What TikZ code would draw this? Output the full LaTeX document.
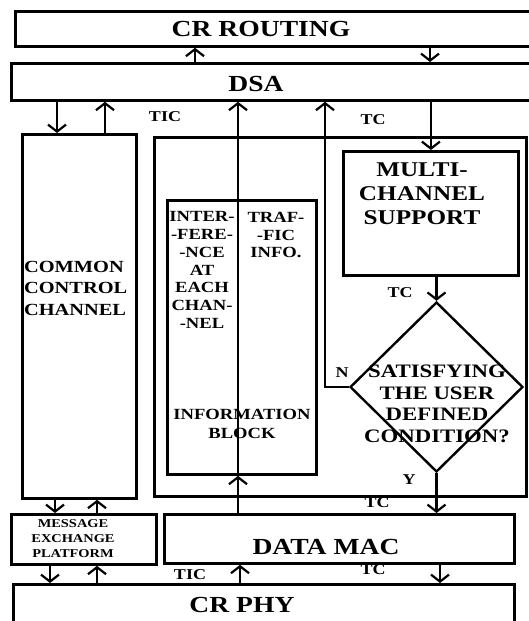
\documentclass[tikz,border=0pt]{standalone}
\usepackage{fontspec}
\setmainfont{Liberation Serif}[FakeStretch=1.2]
\usetikzlibrary{arrows.meta,
shapes.geometric,
positioning}

\begin{document}
\begin{tikzpicture} [x=1pt, y=-1pt,
        >={Straight Barb[length=7pt, width=18pt]},
        line width=2.2pt,
        layer box/.style={rectangle, draw, line width=2.8pt,
                anchor=north west, inner sep=0pt},
        big text/.style={font=\bfseries\fontsize{23}{26}\selectfont, inner sep=0pt},
        mid text/.style={font=\bfseries\fontsize{17}{21.5}\selectfont, inner sep=0pt},
        tag/.style={font=\bfseries\fontsize{15}{15}\selectfont, inner sep=0pt}]

    \useasboundingbox (0,0) rectangle (528,621);

    % boxes
    \node [layer box, minimum width = 520, minimum height = 35] (routing) at (14,10) {};
    \node [layer box, minimum width = 524, minimum height = 37] (dsa) at (10,62) {};
    \node [layer box, minimum width = 114, minimum height = 364] (ccc) at (21,133) {};
    \node [layer box, minimum width = 372, minimum height = 359] (outer) at (153,136) {};
    \node [layer box, minimum width = 149, minimum height = 274] (info) at (166,199) {};
    \node [layer box, minimum width = 175, minimum height = 124] (mcs) at (342,150) {};
    \node [
        diamond,
        draw,
        line width = 2.4pt,
        inner sep = 0pt,
        minimum width = 173,
        minimum height = 170
    ] (cond) at (436.5,387) {};
    \node [layer box, minimum width = 145, minimum height = 50] (mep) at (10,513) {};
    \node [layer box, minimum width = 350, minimum height = 49] (mac) at (163,513) {};
    \node [layer box, minimum width = 501, minimum height = 45] (phy) at (12,583) {};

    % texts
    \node [big text] (routing_txt) at (261,29) {CR ROUTING};
    \node [big text] (dsa_txt) at (256,84) {DSA};
    \node [mid text, anchor = west, align = left] (ccc_txt) at (23,288)
        {COMMON\\CONTROL\\CHANNEL};
    \node [
        font = \bfseries\fontsize{15.5}{17.7}\selectfont,
        inner sep = 0pt,
        align = center
    ] (intf_txt) at (202,270) {INTER-\\-FERE-\\-NCE\\AT\\EACH\\CHAN-\\-NEL};
    \node [
        font = \bfseries\fontsize{15.5}{17.7}\selectfont,
        inner sep = 0pt,
        align = center
    ] (traf_txt) at (276,235) {TRAF-\\-FIC\\INFO.};
    \node [
        font = \bfseries\fontsize{15.5}{19}\selectfont,
        inner sep = 0pt,
        align = center
    ] (info_txt) at (242,424) {INFORMATION\\BLOCK};
    \node [
        font = \bfseries\fontsize{21}{24}\selectfont,
        inner sep = 0pt,
        align = center
    ] (mcs_txt) at (422,194) {MULTI-\\CHANNEL\\SUPPORT};
    \node [
        font = \bfseries\fontsize{19}{21.5}\selectfont,
        inner sep = 0pt,
        align = center
    ] (cond_txt) at (437,404) {SATISFYING\\THE USER\\DEFINED\\CONDITION?};
    \node [
        font = \bfseries\fontsize{12}{15}\selectfont,
        inner sep = 0pt,
        align = center
    ] (mep_txt) at (73,539) {MESSAGE\\EXCHANGE\\PLATFORM};
    \node [big text] (mac_txt) at (326,547) {DATA MAC};
    \node [big text] (phy_txt) at (242,605) {CR PHY};

    % connectors
    \draw [->] (dsa.north -| 195,0) -- (routing.south -| 195,0);
    \draw [->] (routing.south -| 430,0) -- (dsa.north -| 430,0);
    \draw [->] (dsa.south -| 57,0) -- (ccc.north -| 57,0);
    \draw [->] (ccc.north -| 105,0) -- (dsa.south -| 105,0);
    \draw [->] (mac.north -| 238,0) -- (info.south -| 238,0);
    \draw [->] (info.south -| 238,0) -- (dsa.south -| 238,0);
    \draw [->] (cond.west) -| (dsa.south -| 325,0);
    \draw [->] (dsa.south -| mcs.north) -- (mcs.north);
    \draw [->] (mcs.south -| cond.north) -- (cond.north);
    \draw [->] (cond.south) -- (mac.north -| cond.south);
    \draw [->] (ccc.south -| 55,0) -- (mep.north -| 55,0);
    \draw [->] (mep.north -| 97,0) -- (ccc.south -| 97,0);
    \draw [->] (mep.south -| 50,0) -- (phy.north -| 50,0);
    \draw [->] (phy.north -| 97,0) -- (mep.south -| 97,0);
    \draw [->] (phy.north -| 240,0) -- (mac.south -| 240,0);
    \draw [->] (mac.south -| 440,0) -- (phy.north -| 440,0);

    % connector labels
    \node [tag] (tic_top) at (165,117) {TIC};
    \node [tag] (tc_top) at (373,120) {TC};
    \node [tag] (tc_mcs) at (400,293) {TC};
    \node [tag] (no_tag) at (342,373) {N};
    \node [tag] (yes_tag) at (409,480) {Y};
    \node [tag] (tc_mac) at (377,503) {TC};
    \node [tag] (tic_phy) at (190,575) {TIC};
    \node [tag] (tc_phy) at (373,570) {TC};

\end{tikzpicture}
\end{document}
